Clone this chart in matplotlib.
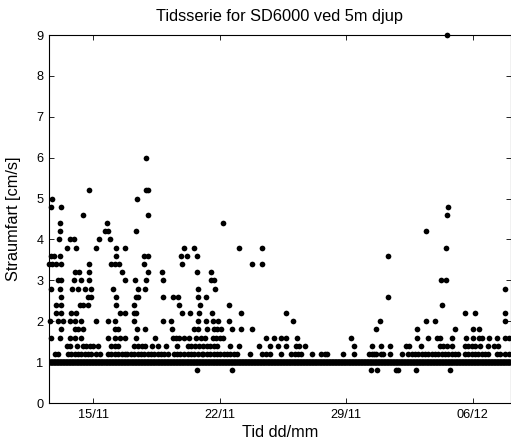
import numpy as np
import matplotlib
matplotlib.use("Agg")
import matplotlib.pyplot as plt

# ---- data (time in days of November; 36 = 06/12) ----
t_start = 12.56          # first sample
t_end = 38.08            # last sample
sample_step = 1 / 48.0   # 30 min
base_speed = 1.0         # most samples sit at the instrument floor reading

s08 = [20.74, 22.67, 30.35, 30.68, 31.73, 31.86, 32.83, 34.74]
s12 = [12.88, 13.06, 13.62, 13.80, 13.99, 14.17, 14.35, 14.54, 14.72, 14.91, 15.18, 15.37,
       15.83, 16.01, 16.20, 16.38, 16.61, 16.79,
       16.90, 17.09, 17.27, 17.46, 17.64, 17.83, 18.01, 18.20, 18.38, 18.56, 18.75, 18.93,
       19.12, 19.45, 19.63, 19.82, 20.04, 20.22, 20.41, 20.59, 20.78, 21.00,
       21.10, 21.29, 21.47, 21.66, 21.84, 22.03, 22.21, 22.40, 22.58, 22.77, 22.95,
       23.69, 24.33, 24.55, 24.79,
       25.41, 25.96, 26.14, 26.33, 26.48, 27.12, 27.62, 27.80, 27.95, 28.82, 29.41,
       30.25, 30.40, 30.53, 30.66, 30.90, 31.05, 31.41, 32.06, 32.43, 32.61, 32.80, 32.98,
       33.17, 33.35, 33.54,
       33.72, 33.91, 34.09, 34.28, 34.46, 34.65, 34.83, 35.02, 35.20, 35.57, 35.75, 35.94,
       36.12, 36.31, 36.49, 36.68, 36.86, 37.32, 37.51, 37.78, 38.00]
s14 = [13.58, 13.71, 14.13, 14.45, 14.63, 14.82, 15.00, 15.28, 16.01, 16.20, 16.38,
       17.24, 17.46, 17.68, 17.86, 18.23, 18.56, 19.02, 19.63, 20.22, 20.41, 20.63, 20.87,
       21.10, 21.29, 21.47, 21.66, 21.84, 22.58, 23.08, 24.20, 24.79, 25.20,
       25.65, 26.24, 26.38, 26.70, 29.41,
       30.40, 30.94, 31.41, 32.28, 32.47, 33.11,
       34.19, 34.37, 34.55, 34.83, 35.57, 35.75, 35.94, 36.12, 36.40, 36.86, 37.14, 37.41]
s16 = [12.69, 13.16, 13.71, 13.99, 14.35, 15.83, 16.20, 16.48, 16.75,
       17.37, 18.44, 19.39, 19.58, 19.76, 20.00, 20.32, 20.69, 20.96,
       21.20, 21.62, 21.81, 22.03, 22.17, 24.55, 25.02,
       25.41, 25.65, 26.29, 29.28,
       32.93, 33.54,
       34.00, 34.19, 34.87, 35.62, 35.99, 36.34, 36.49, 36.90, 37.32, 37.75, 37.97]
s18 = [13.25, 13.99, 14.17, 14.45, 16.20, 16.38,
       17.42, 17.86, 19.34, 20.59, 20.81,
       21.29, 21.66, 21.84, 22.06, 22.67, 23.19, 23.78,
       30.62, 32.93, 35.02, 35.99, 36.34]
s20 = [12.60, 13.06, 13.34, 13.71, 13.99, 14.35, 15.18, 15.83, 16.20,
       17.27, 18.88, 19.30, 20.78, 21.25, 21.62, 21.88, 22.54,
       26.05, 30.86, 33.43, 33.91, 37.75]
s22 = [12.97, 13.25, 13.80, 14.08, 16.48, 16.75,
       17.24, 17.37, 19.89, 20.37, 20.87, 21.57, 23.19,
       25.68, 35.57, 36.12, 37.75]
s24 = [12.97, 13.25, 14.26, 14.45, 14.69, 16.29, 17.27, 19.73, 20.92, 22.49, 34.31]
s26 = [13.25, 14.72, 14.91, 16.29, 17.37, 17.49, 18.88, 19.43, 19.67, 20.78, 21.25, 31.32]
s28 = [12.66, 13.16, 13.84, 14.17, 14.54, 14.91, 16.11, 17.46, 17.86, 20.81, 21.75, 37.75]
s30 = [13.06, 13.25, 13.95, 14.35, 14.76, 16.75, 17.31, 17.92, 18.88, 21.51, 21.70, 34.24, 34.50]
s32 = [13.99, 14.21, 14.76, 16.57, 18.05, 18.80, 20.74, 21.51]
s34 = [12.55, 12.73, 12.97, 13.21, 14.76, 16.01, 16.20, 16.42, 17.83, 19.89, 23.78, 24.33]
s36 = [12.66, 12.84, 13.19, 16.29, 17.83, 18.05, 19.86, 20.17, 20.74, 31.32]
s38 = [13.58, 14.04, 15.18, 16.29, 16.79, 20.00, 20.59, 23.08, 24.33, 34.50]
s40 = [13.10, 13.71, 13.95, 15.33, 15.92]
s42 = [13.16, 15.65, 15.83, 17.37, 33.43]
s44 = [13.16, 15.79, 22.17]
s46 = [14.45, 18.01, 34.55]
s48 = [12.66, 13.21, 34.61]
s50 = [12.73, 17.42]
s52 = [14.76, 17.92, 18.05]
s60 = [17.92]
s90 = [34.55]

levels = [(0.8, s08), (1.2, s12), (1.4, s14), (1.6, s16), (1.8, s18), (2.0, s20),
          (2.2, s22), (2.4, s24), (2.6, s26), (2.8, s28), (3.0, s30), (3.2, s32),
          (3.4, s34), (3.6, s36), (3.8, s38), (4.0, s40), (4.2, s42), (4.4, s44),
          (4.6, s46), (4.8, s48), (5.0, s50), (5.2, s52), (6.0, s60), (9.0, s90)]

xtick_pos = [15, 22, 29, 36]
xtick_labels = ["15/11", "22/11", "29/11", "06/12"]
yticks = list(range(0, 10))

title = "Tidsserie for SD6000 ved 5m djup"
xlabel = "Tid dd/mm"
ylabel = "Straumfart [cm/s]"

# ---- build series ----
base_t = np.arange(t_start, t_end, sample_step)
base_v = np.full(base_t.shape, base_speed)
ev_t = np.concatenate([np.asarray(d, float) for _, d in levels])
ev_v = np.concatenate([np.full(len(d), v) for v, d in levels])

# ---- plot ----
plt.rcParams['font.family'] = ['Liberation Sans', 'DejaVu Sans']
fig = plt.figure(figsize=(5.11, 4.45), dpi=100)
ax = fig.add_axes([49 / 511, 42 / 445, 461.5 / 511, 368 / 445])

ms = 4.1
ax.plot(base_t, base_v, linestyle='none', marker='o', markersize=ms,
        color='black', markeredgewidth=0)
ax.plot(ev_t, ev_v, linestyle='none', marker='o', markersize=ms,
        color='black', markeredgewidth=0, clip_on=False)

ax.set_xlim(t_start, t_end)
ax.set_ylim(0, 9)
ax.set_xticks(xtick_pos)
ax.set_xticklabels(xtick_labels)
ax.set_yticks(yticks)

ax.tick_params(direction='in', length=3.3, width=0.6, top=True, right=True,
               labelsize=9.2, pad=4)
for s in ax.spines.values():
    s.set_linewidth(0.8)

ax.set_title(title, fontsize=11.8, pad=10)
ax.set_xlabel(xlabel, fontsize=11.8, labelpad=3)
ax.set_ylabel(ylabel, fontsize=11.8, labelpad=11)

fig.savefig("out.png", dpi=100)
